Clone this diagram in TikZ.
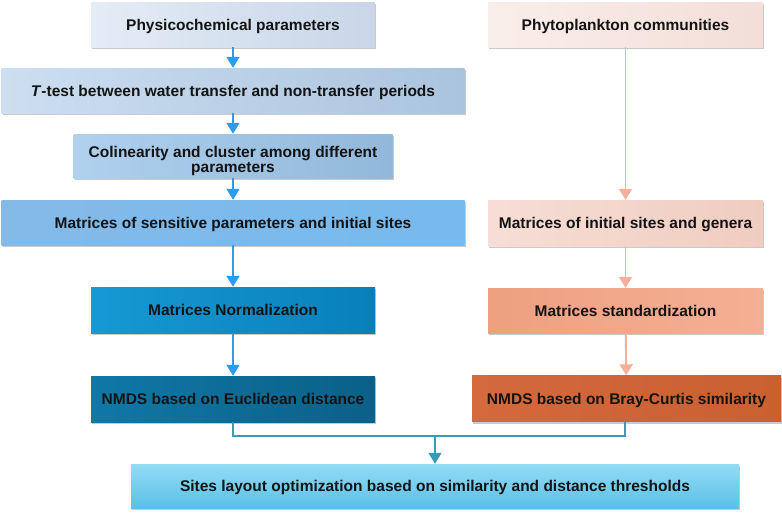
\documentclass[tikz,border=0pt]{standalone}
\usepackage{fontspec}
\setmainfont{Liberation Sans}
\usetikzlibrary{arrows.meta,shadows,calc}
\definecolor{ablue}{HTML}{2B9CF0}
\definecolor{apink}{HTML}{F5B09C}
\definecolor{ateal}{HTML}{3A9AB8}
\tikzset{
  basebox/.style={rectangle, inner sep=0pt, align=center, font=\bfseries\fontsize{15.5}{16}\selectfont, text=black!92,
    drop shadow={shadow xshift=1pt, shadow yshift=-2pt, opacity=0.35, fill=black!60}},
  box/.style={basebox, execute at begin node={\rule[-4pt]{0pt}{19pt}}},
  bl/.style={->, >={Triangle[width=13pt,length=11pt]}, line width=1.8pt, draw=ablue, color=ablue},
  pk/.style={->, >={Triangle[width=13pt,length=11pt]}, line width=1.9pt, draw=apink, color=apink},
  tl/.style={line width=1.8pt, draw=ateal},
}
\begin{document}
\begin{tikzpicture}[x=1pt,y=-1pt]
\useasboundingbox (0,0) rectangle (782,514);
% left column
\node[box, minimum width=284pt, minimum height=45pt, left color={rgb,255:red,228;green,236;blue,246}, right color={rgb,255:red,200;green,214;blue,232}] (p1) at (233,24.5) {Physicochemical parameters};
\node[box, minimum width=463pt, minimum height=45pt, left color={rgb,255:red,205;green,222;blue,240}, right color={rgb,255:red,170;green,196;blue,222}] (p2) at (233,90.5) {\textit{T}-test between water transfer and non-transfer periods};
\node[basebox, minimum width=319pt, minimum height=44pt, left color={rgb,255:red,176;green,208;blue,238}, right color={rgb,255:red,145;green,184;blue,218}] (p3) at (233,156) {\rule{0pt}{21pt}Colinearity and cluster among different\\[-1pt]parameters};
\node[box, minimum width=463pt, minimum height=45pt, left color={rgb,255:red,132;green,186;blue,232}, right color={rgb,255:red,118;green,186;blue,238}] (p4) at (233,222.5) {Matrices of sensitive parameters and initial sites};
\node[box, minimum width=284pt, minimum height=46pt, left color={rgb,255:red,22;green,153;blue,212}, right color={rgb,255:red,8;green,128;blue,186}] (p5) at (233,310) {Matrices Normalization};
\node[box, minimum width=284pt, minimum height=46pt, left color={rgb,255:red,16;green,120;blue,166}, right color={rgb,255:red,10;green,96;blue,136}] (p6) at (233,399) {NMDS based on Euclidean distance};
% right column
\node[box, minimum width=275pt, minimum height=45pt, left color={rgb,255:red,250;green,238;blue,234}, right color={rgb,255:red,243;green,222;blue,216}] (r1) at (625.5,24.5) {Phytoplankton communities};
\node[box, minimum width=275pt, minimum height=46pt, left color={rgb,255:red,246;green,222;blue,214}, right color={rgb,255:red,240;green,204;blue,192}] (r2) at (625.5,223) {Matrices of initial sites and genera};
\node[box, minimum width=275pt, minimum height=45pt, left color={rgb,255:red,238;green,160;blue,128}, right color={rgb,255:red,244;green,176;blue,148}] (r3) at (625.5,310.5) {Matrices standardization};
\node[box, minimum width=309pt, minimum height=46pt, left color={rgb,255:red,212;green,106;blue,60}, right color={rgb,255:red,202;green,96;blue,48}] (r4) at (626.5,398.5) {NMDS based on Bray-Curtis similarity};
% bottom
\node[box, minimum width=608pt, minimum height=44pt, top color={rgb,255:red,146;green,220;blue,246}, bottom color={rgb,255:red,90;green,192;blue,230}] (b) at (435,486) {Sites layout optimization based on similarity and distance thresholds};
% connectors
\draw[bl] (p1) -- (p2);
\draw[bl] (p2) -- (p3);
\draw[bl] (p3) -- (p4);
\draw[bl] (p4) -- (p5);
\draw[bl] (p5) -- (p6);
\draw[pk] (r1) -- (r2);
\draw[pk] (r2) -- (r3);
\draw[pk] (r3) -- (r4);
\coordinate (j) at (435,436);
\draw[tl] (p6.south) |- (j) -| (r4.south -| 625,0);
\draw[tl, ->, >={Triangle[width=13pt,length=11pt]}, color=ateal] (j) -- (b.north -| j);
\end{tikzpicture}
\end{document}
